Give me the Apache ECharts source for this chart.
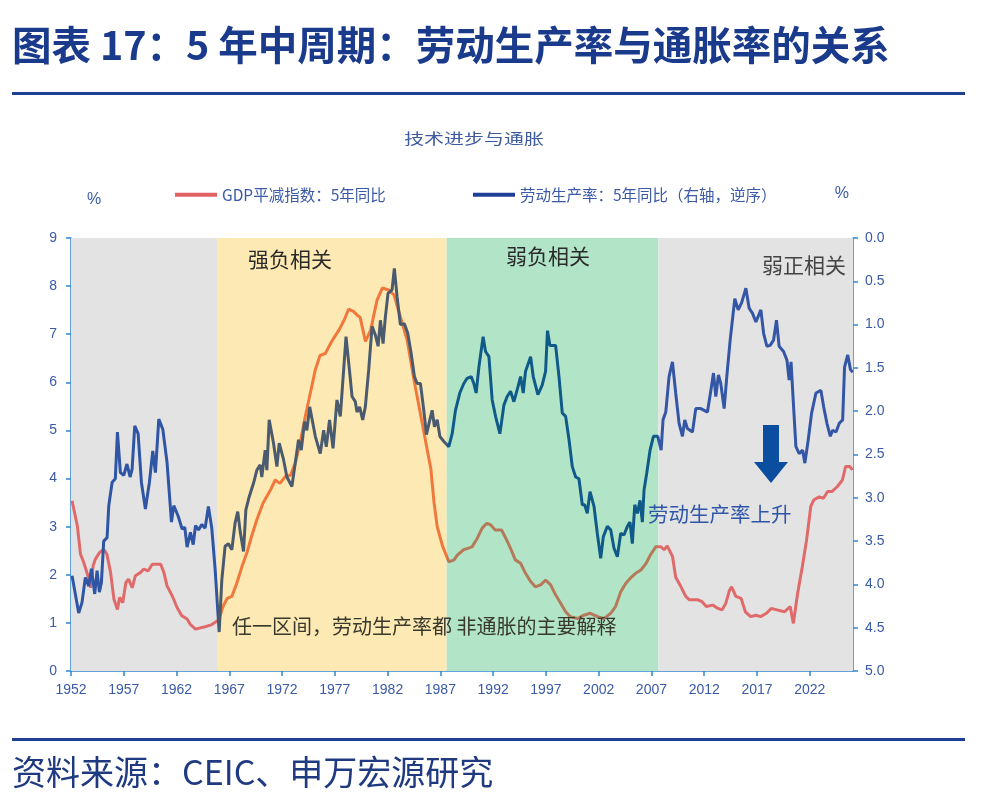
<!DOCTYPE html>
<html>
<head>
<meta charset="utf-8">
<script src="https://cdn.jsdelivr.net/npm/echarts@6/dist/echarts.min.js"></script>
<style>
  html, body { margin: 0; padding: 0; background: #fff; }
  #chart { width: 986px; height: 794px; }
</style>
</head>
<body>
<div id="chart"></div>
<script>
// GDP平减指数：5年同比（左轴）
const gdpYears = [1952.1, 1952.6, 1952.9, 1953.2, 1953.6, 1953.85, 1954.1, 1954.3, 1954.7, 1955.1, 1955.4, 1955.75,
  1956.07, 1956.4, 1956.6, 1956.9, 1957.2, 1957.45, 1957.8, 1958.1, 1958.6, 1958.9, 1959.3, 1959.7, 1960.5, 1960.8,
  1961.1, 1961.6, 1962.05, 1962.5, 1963.0, 1963.3, 1963.8, 1964.7, 1965.3, 1966.0, 1966.4, 1966.8, 1967.24, 1967.7,
  1968.2, 1968.7, 1969.1, 1969.6, 1970.2, 1970.9, 1971.35, 1971.8, 1972.3, 1972.8, 1973.25, 1973.7, 1974.2, 1974.7,
  1975.15, 1975.6, 1976.1, 1976.6, 1976.9, 1977.4, 1977.9, 1978.3, 1978.8, 1979.1, 1979.4, 1979.9, 1980.4, 1981.0,
  1981.5, 1982.1, 1982.6, 1983.2, 1983.85, 1984.5, 1985.1, 1985.75, 1986.1, 1986.4, 1986.7, 1987.2, 1987.8, 1988.3,
  1988.6, 1989.2, 1989.6, 1990.0, 1990.5, 1990.96, 1991.4, 1991.75, 1992.2, 1992.8, 1993.2, 1993.65, 1994.1, 1994.6,
  1995.07, 1995.55, 1996.0, 1996.5, 1996.97, 1997.45, 1997.9, 1998.4, 1998.87, 1999.3, 2000.0, 2000.6, 2001.2, 2001.9,
  2002.5, 2003.14, 2003.6, 2004.1, 2004.56, 2005.0, 2005.5, 2006.0, 2006.5, 2006.9, 2007.4, 2007.9, 2008.2, 2008.5,
  2009.0, 2009.3, 2009.8, 2010.25, 2010.6, 2011.4, 2011.8, 2012.2, 2012.8, 2013.3, 2013.7, 2014.05, 2014.4, 2014.6,
  2015.0, 2015.5, 2015.9, 2016.4, 2016.9, 2017.35, 2017.9, 2018.35, 2018.9, 2019.6, 2020.15, 2020.45, 2020.85, 2021.3,
  2021.7, 2022.1, 2022.4, 2022.9, 2023.3, 2023.7, 2024.1, 2024.6, 2025.1, 2025.4, 2025.8, 2026.05];
const gdpValues = [3.54, 3.02, 2.43, 2.26, 1.98, 1.73, 2.19, 2.32, 2.46, 2.53, 2.43, 2.05,
  1.49, 1.28, 1.53, 1.42, 1.84, 1.91, 1.73, 1.98, 2.05, 2.12, 2.08, 2.22, 2.22, 2.05,
  1.77, 1.56, 1.32, 1.15, 1.08, 0.97, 0.87, 0.92, 0.96, 1.06, 1.34, 1.51, 1.55, 1.82,
  2.17, 2.48, 2.79, 3.14, 3.49, 3.76, 3.97, 3.90, 4.04, 4.07, 4.32, 4.73, 5.29, 5.80,
  6.26, 6.56, 6.60, 6.81, 6.92, 7.09, 7.30, 7.52, 7.47, 7.40, 7.35, 6.85, 7.09, 7.71,
  7.96, 7.92, 7.82, 7.37, 6.88, 6.05, 5.36, 4.60, 4.20, 3.50, 3.00, 2.60, 2.27, 2.31,
  2.41, 2.52, 2.55, 2.58, 2.76, 2.97, 3.07, 3.04, 2.93, 2.93, 2.76, 2.55, 2.31, 2.24,
  2.03, 1.86, 1.75, 1.79, 1.89, 1.79, 1.59, 1.41, 1.23, 1.13, 1.09, 1.16, 1.20, 1.13,
  1.09, 1.20, 1.34, 1.65, 1.82, 1.93, 2.03, 2.10, 2.24, 2.41, 2.58, 2.58, 2.52, 2.60,
  2.38, 1.95, 1.75, 1.55, 1.48, 1.48, 1.44, 1.34, 1.37, 1.30, 1.27, 1.41, 1.68, 1.75,
  1.55, 1.51, 1.23, 1.13, 1.16, 1.13, 1.20, 1.30, 1.27, 1.23, 1.34, 0.99, 1.61, 2.17,
  2.72, 3.42, 3.56, 3.62, 3.59, 3.73, 3.73, 3.83, 3.97, 4.25, 4.25, 4.18];

// 劳动生产率：5年同比（右轴，逆序）
const lpYears = [1952.1, 1952.73, 1953.04, 1953.36, 1953.68, 1953.93, 1954.25, 1954.47, 1954.69, 1954.88, 1955.1, 1955.42,
  1955.58, 1955.9, 1956.2, 1956.4, 1956.68, 1957.0, 1957.3, 1957.6, 1957.79, 1958.04, 1958.36, 1958.67, 1959.05,
  1959.43, 1959.75, 1960.0, 1960.32, 1960.7, 1961.1, 1961.52, 1961.74, 1962.15, 1962.53, 1962.78, 1963.0, 1963.32,
  1963.58, 1963.8, 1964.08, 1964.39, 1964.71, 1965.02, 1965.34, 1965.66, 1966.04, 1966.29, 1966.6, 1966.92, 1967.24,
  1967.55, 1967.8, 1968.03, 1968.35, 1968.57, 1968.88, 1969.3, 1969.61, 1969.93, 1970.08, 1970.4, 1970.56, 1970.78,
  1971.19, 1971.51, 1971.73, 1972.14, 1972.46, 1972.93, 1973.25, 1973.56, 1973.82, 1974.13, 1974.35, 1974.62, 1975.15,
  1975.62, 1975.94, 1976.19, 1976.5, 1976.83, 1977.2, 1977.52, 1978.06, 1978.38, 1978.63, 1978.94, 1979.1, 1979.35,
  1979.64, 1979.89, 1980.21, 1980.53, 1980.84, 1981.1, 1981.32, 1981.57, 1981.79, 1982.04, 1982.42, 1982.64, 1982.9,
  1983.21, 1983.59, 1983.91, 1984.23, 1984.54, 1984.8, 1985.11, 1985.43, 1985.68, 1986.0, 1986.22, 1986.44, 1986.7,
  1986.95, 1987.33, 1987.8, 1988.12, 1988.43, 1988.84, 1989.22, 1989.54, 1989.92, 1990.17, 1990.39, 1990.65, 1991.05,
  1991.28, 1991.6, 1991.91, 1992.23, 1992.64, 1993.02, 1993.33, 1993.65, 1993.97, 1994.35, 1994.6, 1994.85, 1995.07,
  1995.55, 1995.8, 1996.24, 1996.65, 1996.97, 1997.15, 1997.38, 1997.92, 1998.24, 1998.55, 1998.87, 1999.19, 1999.5,
  1999.82, 2000.13, 2000.45, 2000.67, 2000.92, 2001.18, 2001.56, 2001.87, 2002.19, 2002.44, 2002.82, 2003.14, 2003.45,
  2003.77, 2004.09, 2004.4, 2004.72, 2004.97, 2005.19, 2005.42, 2005.67, 2005.92, 2006.14, 2006.3, 2006.55, 2006.87,
  2007.19, 2007.6, 2007.92, 2008.1, 2008.36, 2008.67, 2008.99, 2009.3, 2009.62, 2009.94, 2010.16, 2010.41, 2010.89,
  2011.2, 2011.68, 2012.31, 2012.63, 2012.88, 2013.1, 2013.35, 2013.57, 2013.89, 2014.14, 2014.46, 2014.9, 2015.22,
  2015.54, 2015.95, 2016.26, 2016.58, 2016.9, 2017.37, 2017.63, 2017.94, 2018.25, 2018.57, 2018.85, 2019.1, 2019.52,
  2019.84, 2020.05, 2020.23, 2020.47, 2020.69, 2021.0, 2021.33, 2021.54, 2021.86, 2022.18, 2022.59, 2023.06, 2023.32,
  2023.63, 2023.95, 2024.17, 2024.49, 2024.8, 2025.12, 2025.3, 2025.6, 2025.86, 2026.07];
const lpValues = [3.90, 4.33, 4.21, 3.92, 4.02, 3.82, 4.11, 3.84, 4.09, 3.98, 3.50, 3.46,
  3.09, 2.82, 2.78, 2.24, 2.71, 2.74, 2.61, 2.76, 2.67, 2.17, 2.26, 2.82, 3.13,
  2.82, 2.46, 2.71, 2.09, 2.21, 2.59, 3.28, 3.09, 3.21, 3.36, 3.34, 3.57, 3.40,
  3.54, 3.32, 3.37, 3.31, 3.35, 3.10, 3.35, 3.83, 4.55, 3.95, 3.56, 3.53, 3.60,
  3.29, 3.16, 3.39, 3.62, 3.14, 2.99, 2.83, 2.68, 2.62, 2.76, 2.45, 2.68, 2.10,
  2.37, 2.64, 2.37, 2.56, 2.76, 2.87, 2.60, 2.33, 2.45, 2.12, 2.22, 1.95, 2.29,
  2.49, 2.22, 2.41, 2.10, 2.43, 1.87, 2.06, 1.14, 1.52, 1.83, 1.89, 2.01, 1.95,
  2.10, 1.95, 1.52, 1.02, 1.12, 1.25, 0.95, 1.22, 0.91, 0.64, 0.60, 0.35, 0.68,
  1.00, 0.99, 1.10, 1.33, 1.60, 1.68, 1.68, 1.99, 2.27, 2.10, 1.99, 2.18, 2.10,
  2.29, 2.35, 2.41, 2.26, 1.99, 1.79, 1.68, 1.62, 1.60, 1.68, 1.79, 1.49, 1.14,
  1.31, 1.37, 1.87, 2.06, 2.26, 1.93, 1.83, 1.77, 1.89, 1.72, 1.60, 1.79, 1.54,
  1.37, 1.60, 1.81, 1.70, 1.54, 1.07, 1.24, 1.24, 1.60, 2.02, 2.06, 2.33, 2.64,
  2.76, 2.78, 3.08, 3.08, 3.18, 2.93, 3.10, 3.41, 3.70, 3.45, 3.33, 3.37, 3.58,
  3.68, 3.41, 3.43, 3.33, 3.28, 3.53, 3.08, 3.18, 3.03, 3.28, 2.91, 2.72, 2.45,
  2.29, 2.29, 2.45, 2.10, 2.01, 1.60, 1.43, 1.79, 2.14, 2.29, 2.10, 2.20, 2.24,
  1.97, 1.97, 2.01, 1.76, 1.56, 1.83, 1.58, 1.68, 1.97, 1.60, 1.18, 0.70, 0.83,
  0.75, 0.58, 0.81, 0.87, 0.97, 0.83, 1.10, 1.25, 1.24, 1.18, 0.95, 1.25, 1.31,
  1.41, 1.64, 1.43, 1.95, 2.41, 2.49, 2.45, 2.60, 2.33, 2.02, 1.79, 1.76, 1.95,
  2.14, 2.29, 2.22, 2.24, 2.14, 2.10, 1.49, 1.35, 1.52, 1.55];

// 分段：灰 / 强负相关 / 弱负相关 / 弱正相关
const bandEdges = [1952, 1965.9, 1987.6, 2007.66, 2026.1];
const xTickYears = [1952, 1957, 1962, 1967, 1972, 1977, 1982, 1987, 1992, 1997, 2002, 2007, 2012, 2017, 2022];

const bandFill = ['#e3e3e3', '#fde9b3', '#b2e5c8', '#e3e3e3'];
const gdpTone = ['#e06a6a', '#f0783c', '#b57a5a', '#e06a6a'];
const lpTone = ['#2f55a5', '#4b5b6f', '#0f5a88', '#3356a6'];

const axisBlue = '#2f86d0';
const labelBlue = '#3a5aa8';
const cjk = '"Noto Sans CJK SC", "Noto Sans", sans-serif';

function toPairs(xs, ys) {
  return xs.map((x, i) => [x, ys[i]]);
}

function tonePieces(tones) {
  return tones.map((c, i) => {
    const p = { color: c };
    if (i > 0) p.gte = bandEdges[i];
    if (i < tones.length - 1) p.lt = bandEdges[i + 1];
    return p;
  });
}

const bandAreas = bandFill.map((c, i) => [
  { xAxis: bandEdges[i], itemStyle: { color: c } },
  { xAxis: bandEdges[i + 1] }
]);

const chart = echarts.init(document.getElementById('chart'));

const option = {
  animation: false,
  backgroundColor: '#fff',
  textStyle: { fontFamily: cjk },
  grid: { left: 71, right: 133, top: 238, bottom: 123 },
  legend: [
    {
      left: 170, top: 182,
      data: ['GDP平减指数：5年同比'],
      icon: 'rect', itemWidth: 42, itemHeight: 4,
      textStyle: { color: labelBlue, fontSize: 15.5, fontFamily: cjk }
    },
    {
      left: 468, top: 182,
      data: ['劳动生产率：5年同比（右轴，逆序）'],
      icon: 'rect', itemWidth: 42, itemHeight: 4,
      textStyle: { color: labelBlue, fontSize: 15.5, fontFamily: cjk }
    }
  ],
  visualMap: [
    { show: false, type: 'piecewise', seriesIndex: 0, dimension: 0, pieces: tonePieces(gdpTone) },
    { show: false, type: 'piecewise', seriesIndex: 1, dimension: 0, pieces: tonePieces(lpTone) }
  ],
  xAxis: {
    type: 'value',
    min: bandEdges[0],
    max: bandEdges[bandEdges.length - 1],
    splitLine: { show: false },
    axisLine: { lineStyle: { color: axisBlue, width: 1.5 } },
    axisTick: { show: true, customValues: xTickYears, length: 5, lineStyle: { color: axisBlue, width: 1.5 } },
    axisLabel: {
      customValues: xTickYears,
      color: labelBlue, fontSize: 14, margin: 12,
      fontFamily: '"Liberation Sans Narrow", "Liberation Sans", sans-serif',
      formatter: v => String(v)
    }
  },
  yAxis: [
    {
      type: 'value', min: 0, max: 9, interval: 1,
      name: '%', nameLocation: 'end', nameGap: 30,
      nameTextStyle: { color: labelBlue, fontSize: 16, align: 'left', padding: [0, 0, 0, 16], fontFamily: '"Liberation Sans", sans-serif' },
      splitLine: { show: false },
      axisLine: { show: true, lineStyle: { color: axisBlue, width: 1.5 } },
      axisTick: { show: true, length: 5, lineStyle: { color: axisBlue, width: 1.5 } },
      axisLabel: { color: labelBlue, fontSize: 14, margin: 14, fontFamily: '"Liberation Sans", sans-serif' }
    },
    {
      type: 'value', min: 0, max: 5, interval: 0.5, inverse: true, position: 'right',
      name: '%', nameLocation: 'start', nameGap: 36,
      nameTextStyle: { color: labelBlue, fontSize: 16, align: 'right', padding: [0, 4, 0, 0], fontFamily: '"Liberation Sans", sans-serif' },
      splitLine: { show: false },
      axisLine: { show: true, lineStyle: { color: axisBlue, width: 1.5 } },
      axisTick: { show: true, length: 5, lineStyle: { color: axisBlue, width: 1.5 } },
      axisLabel: {
        color: labelBlue, fontSize: 14, margin: 12,
        fontFamily: '"Liberation Sans", sans-serif',
        formatter: v => v.toFixed(1)
      }
    }
  ],
  series: [
    {
      name: 'GDP平减指数：5年同比',
      type: 'line',
      yAxisIndex: 0,
      symbol: 'none',
      color: '#e06262',
      lineStyle: { width: 3 },
      data: toPairs(gdpYears, gdpValues),
      z: 3,
      markArea: { silent: true, z: 1, data: bandAreas }
    },
    {
      name: '劳动生产率：5年同比（右轴，逆序）',
      type: 'line',
      yAxisIndex: 1,
      symbol: 'none',
      color: '#1f3f9a',
      lineStyle: { width: 3 },
      data: toPairs(lpYears, lpValues),
      z: 4
    }
  ],
  graphic: [
    {
      type: 'text', left: 12, top: 25, z: 100,
      style: { text: '图表 17：5 年中周期：劳动生产率与通胀率的关系', fontSize: 39.5, fontWeight: 'bold', fill: '#1a3b8c', fontFamily: cjk }
    },
    { type: 'rect', left: 12, top: 92, z: 100, shape: { width: 953, height: 3 }, style: { fill: '#1f3f94' } },
    { type: 'rect', left: 12, top: 738, z: 100, shape: { width: 953, height: 3 }, style: { fill: '#1f3f94' } },
    {
      type: 'text', left: 12, top: 755, z: 100,
      style: { text: '资料来源：CEIC、申万宏源研究', fontSize: 34, fill: '#1f3a80', fontFamily: cjk }
    },
    {
      type: 'text', x: 474, y: 138, z: 100, scaleX: 1.33,
      style: { text: '技术进步与通胀', fontSize: 15, fill: '#3d5b9d', align: 'center', verticalAlign: 'middle', fontFamily: cjk }
    },
    {
      type: 'text', x: 248, y: 259, z: 100,
      style: { text: '强负相关', fontSize: 21, fill: '#2a2a2a', verticalAlign: 'middle', fontFamily: cjk }
    },
    {
      type: 'text', x: 506, y: 256, z: 100,
      style: { text: '弱负相关', fontSize: 21, fill: '#2a2a2a', verticalAlign: 'middle', fontFamily: cjk }
    },
    {
      type: 'text', x: 762, y: 265, z: 100,
      style: { text: '弱正相关', fontSize: 21, fill: '#444', verticalAlign: 'middle', fontFamily: cjk }
    },
    {
      type: 'text', x: 232, y: 626, z: 100,
      style: { text: '任一区间，劳动生产率都 非通胀的主要解释', fontSize: 20, fill: '#38382c', verticalAlign: 'middle', fontFamily: cjk }
    },
    {
      type: 'text', x: 648, y: 514, z: 100,
      style: { text: '劳动生产率上升', fontSize: 20.5, fill: '#2f55a8', verticalAlign: 'middle', fontFamily: cjk }
    },
    {
      type: 'polygon', z: 100,
      shape: { points: [[763, 425], [779, 425], [779, 462], [788, 462], [771, 483], [754, 462], [763, 462]] },
      style: { fill: '#0b4d9e' }
    }
  ]
};

chart.setOption(option);
</script>
</body>
</html>
